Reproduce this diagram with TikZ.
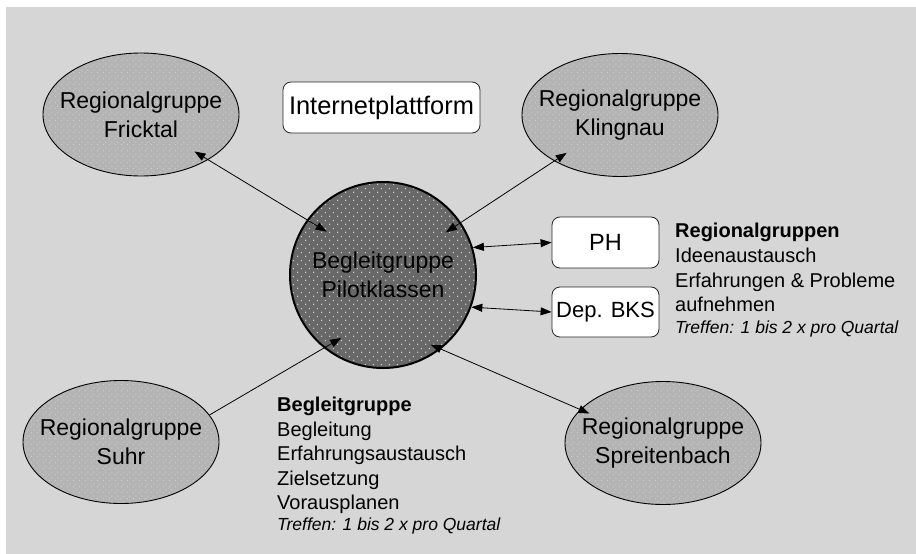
\documentclass[tikz,border=0pt]{standalone}
\usepackage{fontspec}
\setmainfont{Liberation Sans}
\usetikzlibrary{shapes.geometric,arrows.meta,patterns}
\definecolor{bgc}{RGB}{214,214,214}
\definecolor{ellc}{RGB}{180,180,180}
\definecolor{elldot}{RGB}{214,214,214}
\definecolor{circc}{RGB}{104,104,104}
\definecolor{circdot}{RGB}{225,225,225}
\pgfdeclarepatternformonly{smalldots}{\pgfqpoint{0pt}{0pt}}{\pgfqpoint{6pt}{6pt}}{\pgfqpoint{6pt}{6pt}}{%
  \pgfpathcircle{\pgfqpoint{1.5pt}{1.5pt}}{0.6pt}%
  \pgfpathcircle{\pgfqpoint{4.5pt}{4.5pt}}{0.6pt}%
  \pgfusepath{fill}}
\pgfdeclarepatternformonly{bigdots}{\pgfqpoint{0pt}{0pt}}{\pgfqpoint{8pt}{8pt}}{\pgfqpoint{8pt}{8pt}}{%
  \pgfpathcircle{\pgfqpoint{2pt}{2pt}}{0.8pt}%
  \pgfpathcircle{\pgfqpoint{6pt}{6pt}}{0.8pt}%
  \pgfusepath{fill}}
\tikzset{
  region/.style={ellipse, draw=black, line width=0.9pt, minimum width=196pt,
    minimum height=123pt, inner sep=0pt, preaction={fill=ellc},
    pattern=smalldots, pattern color=elldot},
  lbl/.style={align=center, inner sep=0pt, font=\fontsize{23}{29}\selectfont},
  central/.style={circle, draw=black, line width=2pt, minimum size=186pt,
    inner sep=0pt, preaction={fill=circc}, pattern=bigdots, pattern color=circdot},
  wbox/.style={draw=black!85, line width=0.8pt, fill=white, rounded corners=8pt,
    inner sep=0pt},
  conn/.style={line width=0.8pt,
    {Triangle[length=11pt,width=8pt]}-{Triangle[length=11pt,width=8pt]}},
  conna/.style={line width=0.8pt, -{Triangle[length=11pt,width=8pt]}},
  info/.style={anchor=base west, inner sep=0pt, font=\fontsize{20}{24}\selectfont},
  infob/.style={info, font=\fontsize{20}{24}\selectfont\bfseries},
  infoi/.style={info, font=\fontsize{17.5}{21}\selectfont\itshape},
}
\begin{document}
\begin{tikzpicture}[x=1pt,y=-1pt]
\useasboundingbox (0,0) rectangle (916,554);
\fill[white] (0,0) rectangle (916,554);
\fill[bgc] (6,7) rectangle (916,554);

\node[region, label={[lbl]center:{Regionalgruppe\\Fricktal}}] (fr) at (141,114.5) {};
\node[region, label={[lbl]center:{Regionalgruppe\\Klingnau}}] (kl) at (620,115) {};
\node[region, label={[lbl]center:{Regionalgruppe\\Suhr}}] (su) at (121,442) {};
\node[region, label={[lbl]center:{Regionalgruppe\\Spreitenbach}}] (sp) at (663,443) {};
\node[central, label={[lbl]center:{Begleitgruppe\\Pilotklassen}}] (bg) at (383,275) {};

\node[wbox, minimum width=197pt, minimum height=51pt, font=\fontsize{25.4}{30}\selectfont] (ip) at (381.5,107.5) {Internetplattform};
\node[wbox, minimum width=107pt, minimum height=51pt, font=\fontsize{23.5}{28}\selectfont] (ph) at (605.5,242.5) {PH};
\node[wbox, minimum width=107pt, minimum height=50pt, font=\fontsize{22}{26}\selectfont] (bks) at (605.5,312) {Dep. BKS};

\draw[conn, shorten <=-16pt, shorten >=-23pt] (fr.-34) -- (bg.144);
\draw[conn, shorten <=-15pt, shorten >=-18pt] (kl.215) -- (bg.34);
\draw[conna, shorten >=-20pt] (su.17) -- (bg.231);
\draw[conn, shorten <=-11pt, shorten >=-10pt] (bg.-52) -- (sp.158);
\draw[conn] (bg.17) -- (ph.west);
\draw[conn] (bg.-20) -- (bks.west);

\node[infob] (r1) at (675,237) {Regionalgruppen};
\node[info]  (r2) at (675,262) {Ideenaustausch};
\node[info]  (r3) at (675,287) {Erfahrungen \& Probleme};
\node[info]  (r4) at (675,311) {aufnehmen};
\node[infoi] (r5) at (675,333) {Treffen: 1 bis 2 x pro Quartal};

\node[infob] (b1) at (277,411) {Begleitgruppe};
\node[info]  (b2) at (277,436) {Begleitung};
\node[info]  (b3) at (277,460) {Erfahrungsaustausch};
\node[info]  (b4) at (277,485) {Zielsetzung};
\node[info]  (b5) at (277,509) {Vorausplanen};
\node[infoi] (b6) at (277,530) {Treffen: 1 bis 2 x pro Quartal};
\end{tikzpicture}
\end{document}
